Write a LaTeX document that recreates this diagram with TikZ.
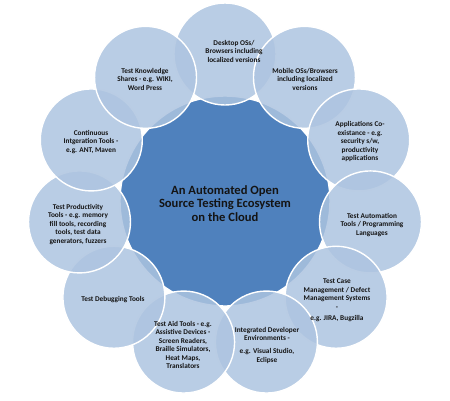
\documentclass[tikz,border=0pt]{standalone}
\usepackage{fontspec}
\setmainfont{Carlito}
\definecolor{hubblue}{RGB}{79,129,189}
\definecolor{liteblue}{RGB}{173,196,224}
\definecolor{ink}{RGB}{20,20,20}
\begin{document}
\begin{tikzpicture}[x=1pt,y=-1pt,
  outer/.style={circle, minimum size=102pt, inner sep=0pt, fill=liteblue, fill opacity=0.85, draw=white, line width=1.4pt},
  lbl/.style={align=center, font=\fontsize{7.3}{8.5}\selectfont\bfseries, text=ink, inner sep=0pt},
  hubtext/.style={align=center, font=\fontsize{12.6}{13.6}\selectfont\bfseries, text=ink, inner sep=0pt},
]
\useasboundingbox (0,0) rectangle (450,400);
\node[circle, minimum size=210pt, inner sep=0pt, fill=hubblue, draw=white, line width=1.4pt] (hub) at (225,201) {};
\node[outer] (c1) at ({225+147*cos(90)},{201-147*sin(90)}) {};
\node[outer] (c2) at ({225+147*cos(90-360/11)},{201-147*sin(90-360/11)}) {};
\node[outer] (c3) at ({225+147*cos(90-2*360/11)},{201-147*sin(90-2*360/11)}) {};
\node[outer] (c4) at ({225+147*cos(90-3*360/11)},{201-147*sin(90-3*360/11)}) {};
\node[outer] (c5) at ({225+147*cos(90-4*360/11)},{201-147*sin(90-4*360/11)}) {};
\node[outer] (c6) at ({225+147*cos(90-5*360/11)},{201-147*sin(90-5*360/11)}) {};
\node[outer] (c7) at ({225+147*cos(90-6*360/11)},{201-147*sin(90-6*360/11)}) {};
\node[outer] (c8) at ({225+147*cos(90-7*360/11)},{201-147*sin(90-7*360/11)}) {};
\node[outer] (c9) at ({225+147*cos(90-8*360/11)},{201-147*sin(90-8*360/11)}) {};
\node[outer] (c10) at ({225+147*cos(90-9*360/11)},{201-147*sin(90-9*360/11)}) {};
\node[outer] (c11) at ({225+147*cos(90-10*360/11)},{201-147*sin(90-10*360/11)}) {};
\node[lbl] (t1) at (234,51) {Desktop OSs/\\Browsers including\\localized versions};
\node[lbl] (t2) at (305,79) {Mobile OSs/Browsers\\including localized\\versions};
\node[lbl] (t3) at (360,142) {Applications Co-\\existance - e.g.\\security s/w,\\productivity\\applications};
\node[lbl] (t4) at (372,225) {Test Automation\\Tools / Programming\\Languages};
\node[lbl] (t5) at (337,300.5) {Test Case\\Management / Defect\\Management Systems\\-\\[2.6pt]e.g. JIRA, Bugzilla};
\node[lbl] (t6) at (267,345.5) {Integrated Developer\\Environments -\\[4.5pt]e.g. Visual Studio,\\Eclipse};
\node[lbl] (t7) at (183,345) {Test Aid Tools - e.g.\\Assistive Devices -\\Screen Readers,\\Braille Simulators,\\Heat Maps,\\Translators};
\node[lbl] (t8) at (113,300) {Test Debugging Tools};
\node[lbl] (t9) at (78,224.5) {Test Productivity\\Tools - e.g. memory\\fill tools, recording\\tools, test data\\generators, fuzzers};
\node[lbl] (t10) at (91,142) {Continuous\\Intgeration Tools -\\e.g. ANT, Maven};
\node[lbl] (t11) at (145,79) {Test Knowledge\\Shares - e.g. WIKI,\\Word Press};
\node[hubtext] (ht) at (225,203.5) {An Automated Open\\Source Testing Ecosystem\\on the Cloud};
\end{tikzpicture}
\end{document}
